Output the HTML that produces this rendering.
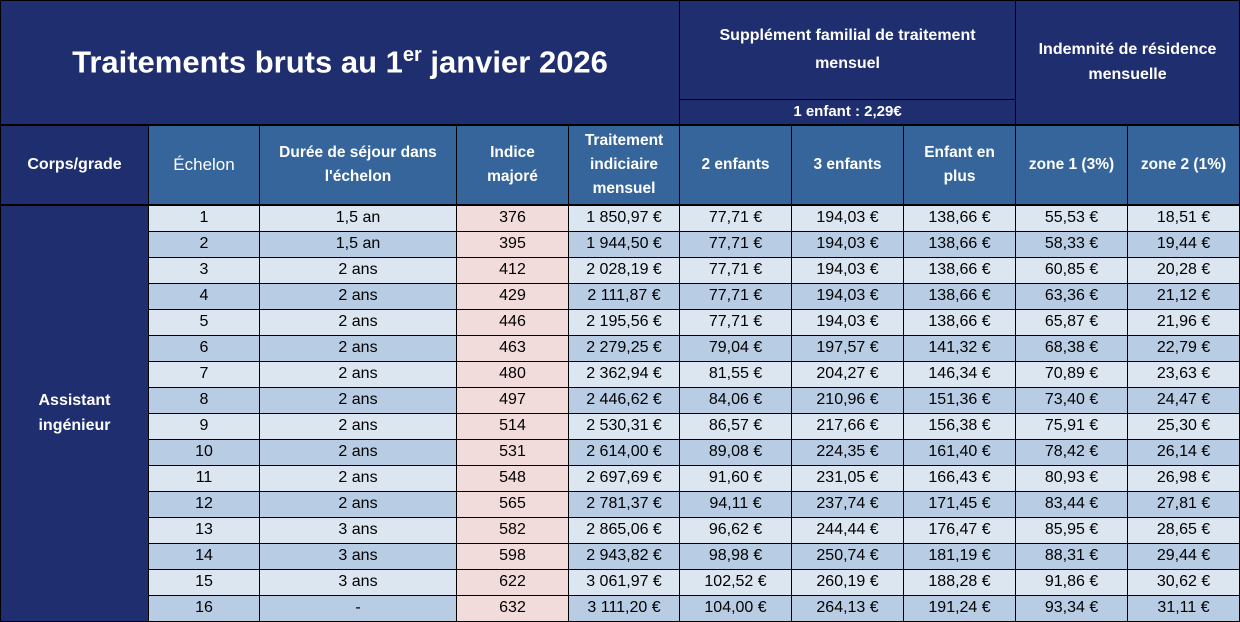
<!DOCTYPE html>
<html><head><meta charset="utf-8"><style>
body{margin:0;background:#fff;width:1240px;height:622px;overflow:hidden;font-family:"Liberation Sans",sans-serif}
table{border-collapse:collapse;table-layout:fixed;width:1239px}
td{border:1px solid #000;text-align:center;padding:0;color:#000;font-size:16px;overflow:hidden;white-space:nowrap}
.n{background:#1f2e6e;color:#fff;font-weight:bold}
.m{background:#35659a;color:#fff;font-weight:bold;font-size:15.5px;line-height:24px;white-space:nowrap;border-bottom:2px solid #000}
.l td{background:#dce6f1}
.d td{background:#b8cce4}
td.p{background:#f2dcdb!important}
tr.r td{height:25px}
</style></head><body>
<table>
<colgroup><col style="width:148px"><col style="width:111px"><col style="width:197px"><col style="width:112px"><col style="width:111px"><col style="width:112px"><col style="width:112px"><col style="width:112px"><col style="width:112px"><col style="width:112px"></colgroup>
<tr style="height:99px"><td class="n" colspan="5" rowspan="2" style="font-size:31px;border-bottom:2px solid #000">Traitements bruts au 1<sup style="font-size:20px">er</sup> janvier 2026</td><td class="n" colspan="3" style="font-size:16px;line-height:28px">Supplément familial de traitement<br>mensuel</td><td class="n" colspan="2" rowspan="2" style="font-size:16px;line-height:25px;border-bottom:2px solid #000">Indemnité de résidence<br>mensuelle</td></tr>
<tr style="height:25px"><td class="n" colspan="3" style="font-size:15px;border-bottom:2px solid #000">1 enfant : 2,29€</td></tr>
<tr style="height:80px"><td class="n" style="font-size:16px;border-bottom:2px solid #000">Corps/grade</td><td class="m" style="font-weight:normal;font-size:17px">Échelon</td><td class="m">Durée de séjour dans<br>l'échelon</td><td class="m">Indice<br>majoré</td><td class="m">Traitement<br>indiciaire<br>mensuel</td><td class="m">2 enfants</td><td class="m">3 enfants</td><td class="m">Enfant en<br>plus</td><td class="m">zone 1 (3%)</td><td class="m">zone 2 (1%)</td></tr>
<tr class="r l"><td class="n" rowspan="16" style="background:#1f2e6e;font-size:16px;line-height:25px">Assistant<br>ingénieur</td><td>1</td><td>1,5 an</td><td class="p">376</td><td>1 850,97 €</td><td>77,71 €</td><td>194,03 €</td><td>138,66 €</td><td>55,53 €</td><td>18,51 €</td></tr>
<tr class="r d"><td>2</td><td>1,5 an</td><td class="p">395</td><td>1 944,50 €</td><td>77,71 €</td><td>194,03 €</td><td>138,66 €</td><td>58,33 €</td><td>19,44 €</td></tr>
<tr class="r l"><td>3</td><td>2 ans</td><td class="p">412</td><td>2 028,19 €</td><td>77,71 €</td><td>194,03 €</td><td>138,66 €</td><td>60,85 €</td><td>20,28 €</td></tr>
<tr class="r d"><td>4</td><td>2 ans</td><td class="p">429</td><td>2 111,87 €</td><td>77,71 €</td><td>194,03 €</td><td>138,66 €</td><td>63,36 €</td><td>21,12 €</td></tr>
<tr class="r l"><td>5</td><td>2 ans</td><td class="p">446</td><td>2 195,56 €</td><td>77,71 €</td><td>194,03 €</td><td>138,66 €</td><td>65,87 €</td><td>21,96 €</td></tr>
<tr class="r d"><td>6</td><td>2 ans</td><td class="p">463</td><td>2 279,25 €</td><td>79,04 €</td><td>197,57 €</td><td>141,32 €</td><td>68,38 €</td><td>22,79 €</td></tr>
<tr class="r l"><td>7</td><td>2 ans</td><td class="p">480</td><td>2 362,94 €</td><td>81,55 €</td><td>204,27 €</td><td>146,34 €</td><td>70,89 €</td><td>23,63 €</td></tr>
<tr class="r d"><td>8</td><td>2 ans</td><td class="p">497</td><td>2 446,62 €</td><td>84,06 €</td><td>210,96 €</td><td>151,36 €</td><td>73,40 €</td><td>24,47 €</td></tr>
<tr class="r l"><td>9</td><td>2 ans</td><td class="p">514</td><td>2 530,31 €</td><td>86,57 €</td><td>217,66 €</td><td>156,38 €</td><td>75,91 €</td><td>25,30 €</td></tr>
<tr class="r d"><td>10</td><td>2 ans</td><td class="p">531</td><td>2 614,00 €</td><td>89,08 €</td><td>224,35 €</td><td>161,40 €</td><td>78,42 €</td><td>26,14 €</td></tr>
<tr class="r l"><td>11</td><td>2 ans</td><td class="p">548</td><td>2 697,69 €</td><td>91,60 €</td><td>231,05 €</td><td>166,43 €</td><td>80,93 €</td><td>26,98 €</td></tr>
<tr class="r d"><td>12</td><td>2 ans</td><td class="p">565</td><td>2 781,37 €</td><td>94,11 €</td><td>237,74 €</td><td>171,45 €</td><td>83,44 €</td><td>27,81 €</td></tr>
<tr class="r l"><td>13</td><td>3 ans</td><td class="p">582</td><td>2 865,06 €</td><td>96,62 €</td><td>244,44 €</td><td>176,47 €</td><td>85,95 €</td><td>28,65 €</td></tr>
<tr class="r d"><td>14</td><td>3 ans</td><td class="p">598</td><td>2 943,82 €</td><td>98,98 €</td><td>250,74 €</td><td>181,19 €</td><td>88,31 €</td><td>29,44 €</td></tr>
<tr class="r l"><td>15</td><td>3 ans</td><td class="p">622</td><td>3 061,97 €</td><td>102,52 €</td><td>260,19 €</td><td>188,28 €</td><td>91,86 €</td><td>30,62 €</td></tr>
<tr class="r d"><td>16</td><td>-</td><td class="p">632</td><td>3 111,20 €</td><td>104,00 €</td><td>264,13 €</td><td>191,24 €</td><td>93,34 €</td><td>31,11 €</td></tr>
</table>
</body></html>
